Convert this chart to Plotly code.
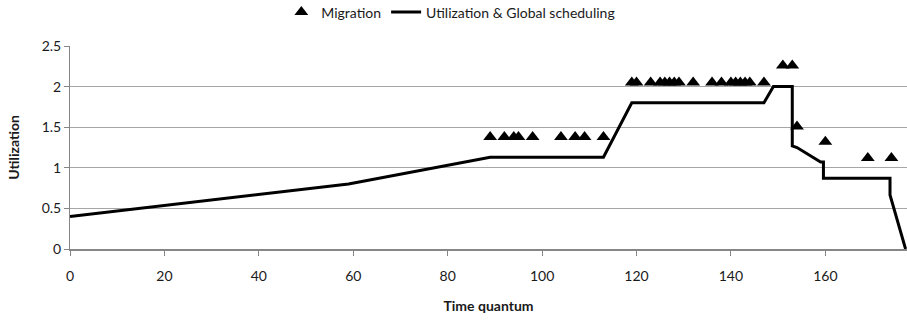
import plotly.graph_objects as go

# Utilization & Global scheduling line
util_x = [0, 59, 89, 113, 119, 147, 149, 153, 153, 154, 159, 159.6, 159.6, 173.7, 173.7, 177]
util_y = [0.4, 0.8, 1.13, 1.13, 1.8, 1.8, 2.0, 2.0, 1.27, 1.25, 1.07, 1.07, 0.87, 0.87, 0.665, 0.0]

# Migration markers
mig_x = [89, 92, 94, 95, 98, 104, 107, 109, 113,
         119, 120, 123, 125, 126, 127, 128, 129, 132, 136, 138, 140, 141, 142, 143, 144, 147,
         151, 153, 154, 160, 169, 174]
mig_y = [1.38, 1.38, 1.38, 1.38, 1.38, 1.38, 1.38, 1.38, 1.38,
         2.05, 2.05, 2.05, 2.05, 2.05, 2.05, 2.05, 2.05, 2.05, 2.05, 2.05, 2.05, 2.05, 2.05, 2.05, 2.05, 2.05,
         2.26, 2.26, 1.51, 1.32, 1.12, 1.12]

x_ticks = [0, 20, 40, 60, 80, 100, 120, 140, 160]
y_ticks = [0, 0.5, 1, 1.5, 2, 2.5]
y_tick_labels = ["0", "0.5", "1", "1.5", "2", "2.5"]

FONT = "Lato, 'Open Sans', sans-serif"

fig = go.Figure()
fig.add_trace(go.Scatter(
    x=mig_x, y=mig_y, mode="markers", name="Migration",
    marker=dict(symbol="triangle-up", size=12, color="black"),
))
fig.add_trace(go.Scatter(
    x=util_x, y=util_y, mode="lines", name="Utilization & Global scheduling",
    line=dict(color="black", width=3),
))

fig.update_layout(
    width=907, height=321,
    margin=dict(l=70, r=0, t=46, b=72, autoexpand=False),
    paper_bgcolor="white", plot_bgcolor="white",
    font=dict(family=FONT, size=14, color="#1a1a1a"),
    showlegend=True,
    legend=dict(orientation="h", x=0.455, xanchor="center", y=1.165, yanchor="middle",
                font=dict(size=14), itemwidth=30, bgcolor="rgba(0,0,0,0)"),
    xaxis=dict(
        range=[0, 177.3], tickvals=x_ticks, ticktext=[str(v) for v in x_ticks],
        showgrid=False, zeroline=False, showline=True, linecolor="#868686", linewidth=2,
        ticks="outside", ticklen=5, tickcolor="#868686", ticklabelstandoff=8,
        tickfont=dict(size=14),
        title=dict(text="<b>Time quantum</b>", font=dict(size=14), standoff=18),
    ),
    yaxis=dict(
        range=[0, 2.5], tickvals=y_ticks, ticktext=y_tick_labels,
        showgrid=True, gridcolor="#a6a6a6", gridwidth=1, zeroline=False,
        showline=True, linecolor="#868686", linewidth=1,
        ticks="outside", ticklen=5, tickcolor="#868686",
        tickfont=dict(size=14),
        title=dict(text="<b>Utilization</b>", font=dict(size=14), standoff=18),
    ),
)

fig.write_html("out.html", config={"displayModeBar": False},
               post_script="document.body.style.margin='0';document.body.style.overflow='hidden';")
